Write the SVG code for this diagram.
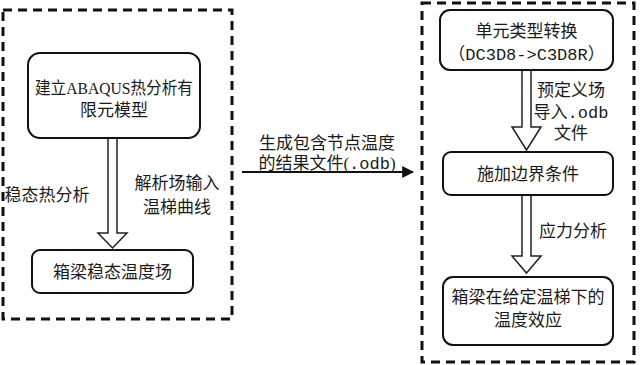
<svg xmlns="http://www.w3.org/2000/svg" width="640" height="365" viewBox="0 0 640 365">
<defs>
<style>
.frame{fill:none;stroke:#111;stroke-width:3;stroke-dasharray:9 6}
.box{fill:#fff;stroke:#111;stroke-width:2}
.harrow{fill:#fff;stroke:#222;stroke-width:1.5;stroke-linejoin:miter}
.t{font-family:"Liberation Serif","Noto Sans CJK SC",serif;font-size:17px;fill:#1a1a1a;text-anchor:middle}
.m{font-family:"Liberation Mono","Noto Sans CJK SC",monospace}
.conn{stroke:#111;stroke-width:2;fill:none}
</style>
<marker id="ah" viewBox="0 0 10 10" refX="9" refY="5" markerWidth="6" markerHeight="6" orient="auto" markerUnits="strokeWidth">
<path d="M0,0 L10,5 L0,10 Z" fill="#111"/>
</marker>
</defs>
<rect width="640" height="365" fill="#fff"/>

<g id="frame-left"><rect class="frame" x="3" y="10" width="229" height="309"/></g>
<g id="frame-right"><rect class="frame" x="422" y="3" width="212" height="359"/></g>

<g id="connectors">
<polygon class="harrow" points="108,138 117,138 117,233 127,233 112.5,248 98,233 108,233"/>
<polygon class="harrow" points="522,70 531,70 531,127 541,127 526.5,150 512,127 522,127"/>
<polygon class="harrow" points="522,195 531,195 531,256 541,256 526.5,273 512,256 522,256"/>
<line class="conn" x1="242" y1="172" x2="413" y2="172" marker-end="url(#ah)"/>
</g>

<g id="n-model">
<rect class="box" x="28" y="53" width="172" height="85" rx="12"/>
<text class="t" x="114" y="94" textLength="158" lengthAdjust="spacingAndGlyphs">建立ABAQUS热分析有</text>
<text class="t" x="114" y="116">限元模型</text>
</g>
<g id="n-steady">
<rect class="box" x="32" y="250" width="161" height="43" rx="8"/>
<text class="t" x="112.5" y="278">箱梁稳态温度场</text>
</g>
<g id="lbl-left">
<text class="t" x="47" y="201">稳态热分析</text>
<text class="t" x="177" y="189">解析场输入</text>
<text class="t" x="177" y="213">温梯曲线</text>
</g>
<g id="lbl-mid">
<text class="t" x="327" y="149">生成包含节点温度</text>
<text class="t" x="327" y="169">的结果文件(<tspan class="m">.odb</tspan>)</text>
</g>
<g id="n-convert">
<rect class="box" x="440" y="10" width="173" height="60" rx="10"/>
<text class="t" x="526.5" y="37">单元类型转换</text>
<text class="t m" x="526.5" y="60">（DC3D8-&gt;C3D8R）</text>
</g>
<g id="lbl-r1">
<text class="t" x="571" y="96">预定义场</text>
<text class="t" x="571" y="118">导入<tspan class="m">.odb</tspan></text>
<text class="t" x="571" y="139">文件</text>
</g>
<g id="n-bc">
<rect class="box" x="443" y="152" width="170" height="43" rx="8"/>
<text class="t" x="528" y="180">施加边界条件</text>
</g>
<g id="lbl-r2"><text class="t" x="573" y="237">应力分析</text></g>
<g id="n-effect">
<rect class="box" x="443" y="277" width="170" height="68" rx="10"/>
<text class="t" x="528" y="303">箱梁在给定温梯下的</text>
<text class="t" x="528" y="326">温度效应</text>
</g>
</svg>
